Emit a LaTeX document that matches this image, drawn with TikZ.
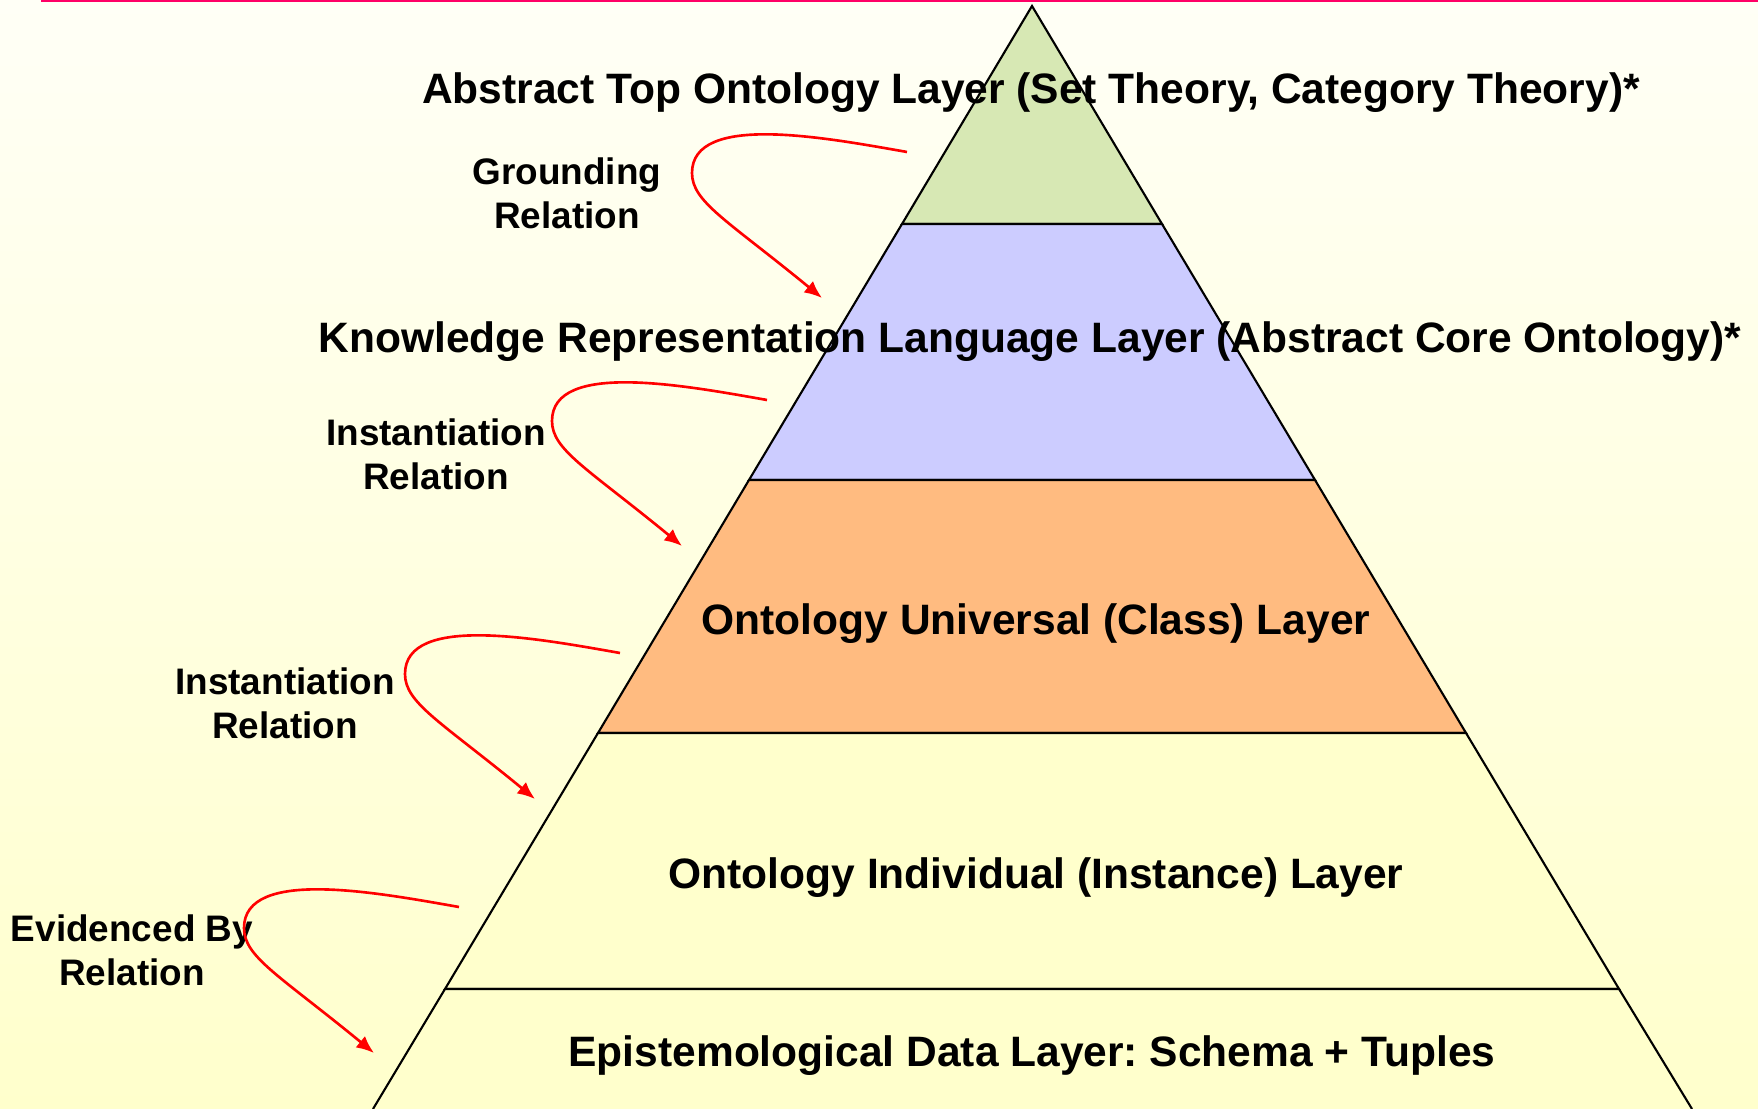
\documentclass[tikz,border=0pt]{standalone}
\usepackage{fontspec}
\setmainfont{Liberation Sans}
\usetikzlibrary{arrows.meta,calc}
\frenchspacing

\definecolor{bgtop}{HTML}{FFFFF6}
\definecolor{bgbottom}{HTML}{FFFFCC}
\definecolor{rulepink}{HTML}{FF0066}
\definecolor{topgreen}{HTML}{D7E8B4}
\definecolor{langlavender}{HTML}{CCCCFF}
\definecolor{classorange}{HTML}{FFBB80}
\definecolor{dataYellow}{HTML}{FFFFCC}

\begin{document}
\begin{tikzpicture}[
  layer/.style={draw=black,line width=0.6pt},
  layertext/.style={font=\fontsize{12.1}{14}\selectfont\bfseries,anchor=base,inner sep=0pt},
  reltext/.style={font=\fontsize{10.5}{12.5}\selectfont\bfseries,align=center,inner sep=0pt},
  relation/.style={draw=red,line width=0.75pt,-{Latex[length=5pt,width=4.2pt]}}
]
  \useasboundingbox (0,0) rectangle (17.58,11.09);
  \fill[top color=bgtop,bottom color=bgbottom] (0,0) rectangle (17.58,11.09);
  \fill[rulepink] (0.41,11.065) rectangle (17.58,11.09);

  % pyramid corners
  \coordinate (apex) at (10.32,11.03);
  \coordinate (l1) at (9.02,8.85);  \coordinate (r1) at (11.62,8.85);
  \coordinate (l2) at (7.49,6.29);  \coordinate (r2) at (13.15,6.29);
  \coordinate (l3) at (5.98,3.76);  \coordinate (r3) at (14.66,3.76);
  \coordinate (l4) at (4.45,1.20);  \coordinate (r4) at (16.19,1.20);
  \coordinate (l5) at (3.73,0);     \coordinate (r5) at (16.92,0);

  \filldraw[layer,fill=topgreen] (apex) -- (l1) -- (r1) -- cycle;
  \filldraw[layer,fill=langlavender] (l1) -- (l2) -- (r2) -- (r1) -- cycle;
  \filldraw[layer,fill=classorange] (l2) -- (l3) -- (r3) -- (r2) -- cycle;
  \filldraw[layer,fill=dataYellow] (l3) -- (l4) -- (r4) -- (r3) -- cycle;
  \fill[dataYellow] (l4) -- (l5) -- (r5) -- (r4) -- cycle;
  \draw[layer] (l5) -- (l4) -- (r4) -- (r5);

  % layer names
  \node[layertext] (toplayer) at (10.31,10.05) {Abstract Top Ontology Layer (Set Theory, Category Theory)*};
  \node[layertext] (langlayer) at (10.30,7.56) {Knowledge Representation Language Layer (Abstract Core Ontology)*};
  \node[layertext] (classlayer) at (10.36,4.74) {Ontology Universal (Class) Layer};
  \node[layertext] (instlayer) at (10.36,2.20) {Ontology Individual (Instance) Layer};
  \node[layertext] (datalayer) at (10.32,0.42) {Epistemological Data Layer: Schema + Tuples};

  % relation names
  \node[reltext] (grounding) at (5.67,9.155) {Grounding\\Relation};
  \node[reltext] (inst1) at (4.36,6.545) {Instantiation\\Relation};
  \node[reltext] (inst2) at (2.85,4.055) {Instantiation\\Relation};
  \node[reltext] (evidenced) at (1.32,1.585) {Evidenced By\\Relation};

  % relation arrows
  \coordinate (s1) at (9.07,9.57);
  \coordinate (s2) at (7.67,7.09);
  \coordinate (s3) at (6.20,4.56);
  \coordinate (s4) at (4.59,2.02);
  \foreach \n in {1,...,4}{
    \coordinate (t\n) at ($(s\n)+(-0.85,-1.46)$);
    \draw[relation] (s\n) .. controls ($(s\n)+(-0.80,0.14)$) and ($(s\n)+(-2.15,0.40)$) .. ($(s\n)+(-2.15,-0.21)$)
      .. controls ($(s\n)+(-2.15,-0.50)$) and ($(s\n)+(-1.80,-0.68)$) .. (t\n);
  }
\end{tikzpicture}
\end{document}
